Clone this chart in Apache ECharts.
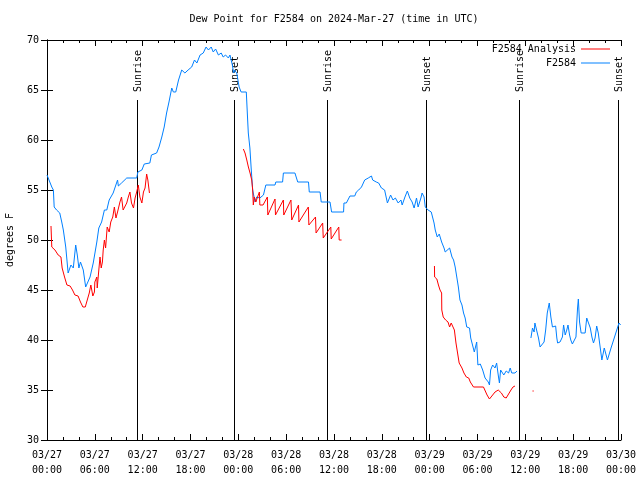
<!DOCTYPE html>
<html>
<head>
<meta charset="utf-8">
<script src="https://cdn.jsdelivr.net/npm/echarts@6/dist/echarts.min.js"></script>
<style>html,body{margin:0;padding:0;background:#fff}#c{width:640px;height:480px}</style>
</head>
<body>
<div id="c"></div>
<script>
// hours since 2024-03-27 00:00 UTC
const tickLabels = ['03/27\n00:00','03/27\n06:00','03/27\n12:00','03/27\n18:00','03/28\n00:00','03/28\n06:00','03/28\n12:00','03/28\n18:00','03/29\n00:00','03/29\n06:00','03/29\n12:00','03/29\n18:00','03/30\n00:00'];
const sunTimes = [11.23, 23.5, 35.17, 47.6, 59.2, 71.6];
const sunLabels = ['Sunrise','Sunset','Sunrise','Sunset','Sunrise','Sunset'];

const obsTimes = [0,0.6,0.8,0.9,1.2,1.6,1.85,2.05,2.35,2.65,3.0,3.3,3.6,3.8,4.0,4.2,4.55,4.85,5.1,5.4,5.8,6.25,6.5,6.85,7.2,7.5,7.8,8.3,8.55,8.85,8.95,9.35,10.0,11.25,11.4,11.9,12.2,12.9,13.1,13.75,14.05,14.4,14.7,15.0,15.3,15.65,15.85,16.15,16.5,16.9,17.3,17.7,18.15,18.5,18.8,19.2,19.6,19.95,20.25,20.6,20.85,21.15,21.5,21.85,22.1,22.4,22.75,22.95,23.25,23.4,23.5,23.8,24.1,24.35,25.0,25.15,25.25,25.45,25.6,25.8,26.1,26.3,26.7,27.15,27.45,28.6,28.7,29.55,29.65,31.1,31.45,32.8,32.9,34.25,34.4,35.5,35.7,37.2,37.25,37.55,38.0,38.6,38.8,39.1,39.45,39.85,40.3,40.7,40.85,41.3,41.6,41.95,42.35,42.7,43.1,43.4,43.7,44.05,44.4,44.55,44.9,45.2,45.5,45.8,46.05,46.35,46.55,46.9,47.05,47.3,47.45,47.8,48.2,48.55,48.7,48.95,49.2,49.5,49.8,49.95,50.5,50.8,51.0,51.2,51.4,51.6,51.8,52.05,52.25,52.45,52.65,53.0,53.15,53.4,53.6,53.9,54.05,54.35,54.65,54.95,55.15,55.35,55.5,55.65,55.9,56.2,56.4,56.6,56.75,56.9,57.15,57.3,57.6,57.9,58.1,58.3,58.7,58.95,59.8,60.7,60.9,61.1,61.2,61.45,61.65,61.85,62.05,62.35,62.55,62.75,63.0,63.2,63.4,63.6,63.8,63.95,64.05,64.35,64.65,64.8,65.0,65.2,65.35,65.55,65.7,65.9,66.1,66.35,66.55,66.65,66.8,67.0,67.5,67.7,67.85,68.15,68.35,68.55,68.75,68.95,69.15,69.4,69.6,69.8,69.9,70.1,70.3,70.55,70.75,70.95,71.15,71.35,71.55,71.75,71.95];
const obsValues = [56.5,55.3,55.0,53.3,53.0,52.7,51.8,51.0,49.3,46.7,47.5,47.2,49.5,48.5,47.2,47.8,47.0,45.3,45.5,46.3,47.7,49.8,51.2,51.8,53.0,53.0,54.0,54.7,54.8,56.0,55.4,55.7,56.2,56.2,56.8,57.0,57.6,57.7,58.5,58.7,59.3,60.3,61.3,62.7,63.8,65.2,64.8,64.8,66.0,67.0,66.7,67.0,67.3,68.0,67.7,68.5,68.7,69.3,69.0,69.3,68.8,69.1,68.5,68.7,68.3,68.5,68.2,68.5,67.5,66.7,67.0,66.7,65.3,64.8,64.8,62.3,60.7,59.2,57.3,55.0,53.8,54.3,54.2,54.5,55.5,55.5,55.8,55.8,56.7,56.7,55.8,55.8,54.8,54.8,53.8,53.8,52.8,52.8,53.7,53.7,54.4,54.4,54.8,55.0,55.3,56.0,56.2,56.4,56.0,55.8,55.7,55.2,55.0,53.7,54.5,54.0,54.2,53.7,54.0,53.5,54.3,54.9,54.2,53.8,53.2,54.2,53.3,54.2,54.7,54.3,53.3,53.0,52.8,51.7,51.0,50.3,50.6,49.8,49.2,48.8,49.2,48.3,48.0,47.3,46.3,45.3,44.0,43.5,42.7,42.2,41.3,41.2,40.2,40.3,38.8,39.8,37.5,37.6,37.0,36.2,36.4,35.8,35.5,37.0,37.5,37.2,37.7,36.5,35.7,37.0,36.8,36.5,36.9,36.7,37.2,36.7,36.7,36.9,null,40.2,41.2,40.8,41.7,41.9,40.2,39.3,39.2,39.8,41.0,42.7,43.7,42.3,41.3,41.2,41.4,40.2,39.7,39.8,40.3,41.5,40.5,41.0,41.5,40.5,40.0,39.6,39.6,40.3,43.2,44.1,41.8,40.7,40.7,42.2,42.0,41.2,40.3,39.7,40.2,41.4,40.7,39.2,38.0,38.0,39.2,39.2,38.0,38.0,39.2,39.7,40.2,40.7,41.2,41.7,41.5];

const anaTimes = [0.5,0.6,1.0,1.4,1.75,1.9,2.2,2.5,2.9,3.2,3.5,3.9,4.2,4.5,4.8,5.05,5.3,5.5,5.75,5.95,6.0,6.25,6.3,6.5,6.65,6.8,6.95,7.05,7.2,7.35,7.55,7.8,8.0,8.25,8.45,8.65,8.85,9.15,9.35,9.55,9.8,10.0,10.2,10.4,10.6,10.85,11.05,11.25,11.45,11.65,11.9,12.1,12.3,12.5,12.65,12.85,18.0,24.63,24.84,25.06,25.26,25.47,25.68,25.8,25.88,26.0,26.2,26.5,26.64,26.7,27.1,27.64,27.7,28.6,28.66,29.65,29.7,30.6,30.7,31.55,31.6,32.78,32.85,33.68,33.75,34.58,34.65,35.6,35.65,36.6,36.65,36.95,42.0,48.6,48.62,48.9,49.1,49.3,49.5,49.52,49.7,50.0,50.3,50.5,50.7,50.95,51.1,51.3,51.5,51.7,52.05,52.3,52.6,52.9,53.1,53.3,53.5,54.75,55.2,55.5,55.8,56.2,56.6,57.0,57.3,57.6,57.9,58.2,58.45,58.7,60.0,60.9,61.05];
const anaValues = [51.4,49.3,49.0,48.5,48.3,47.2,46.3,45.5,45.4,45.0,44.5,44.4,43.8,43.3,43.3,44.0,44.7,45.5,44.4,44.8,45.8,46.3,45.2,47.0,48.3,47.2,47.8,49.0,50.0,49.2,51.3,50.8,51.8,52.3,53.3,52.2,52.8,53.8,54.3,53.0,53.0,53.7,54.3,54.8,53.7,53.2,54.2,54.8,55.5,54.3,53.7,54.8,55.2,56.6,56.0,54.7,null,59.1,58.7,58.0,57.3,56.7,56.0,55.0,53.5,54.3,53.8,54.5,54.8,53.5,53.5,54.3,52.5,54.1,52.5,54.0,52.5,54.0,52.0,53.5,51.8,53.3,51.5,52.3,50.7,51.7,50.2,51.3,50.1,51.3,50.0,50.0,null,47.4,46.3,46.1,45.5,45.0,44.7,43.0,42.3,42.0,41.8,41.3,41.7,41.7,41.0,39.7,38.7,37.7,37.2,36.7,36.3,36.2,35.8,35.6,35.3,35.3,34.5,34.1,34.4,34.8,35.0,34.7,34.3,34.2,34.6,35.0,35.3,35.4,null,34.9,34.9];

const FONT = "'DejaVu Sans Mono', 'Liberation Mono', monospace";
const zip = (ts, vs) => ts.map((t, i) => [t, vs[i]]);

const chart = echarts.init(document.getElementById('c'), null, {renderer: 'canvas'});
const xBase = {
  type: 'value', min: 0, max: 72, interval: 6,
  axisLine: {show: true, lineStyle: {color: '#000', width: 1}},
  axisTick: {show: true, inside: true, length: 6, lineStyle: {color: '#000'}},
  minorTick: {show: true, splitNumber: 3, length: 3, lineStyle: {color: '#000'}},
  splitLine: {show: false}, minorSplitLine: {show: false}
};
const yBase = {
  type: 'value', min: 30, max: 70, interval: 5,
  axisLine: {show: true, lineStyle: {color: '#000', width: 1}},
  axisTick: {show: true, inside: true, length: 6, lineStyle: {color: '#000'}},
  splitLine: {show: false}
};
const legendCommon = {
  orient: 'horizontal', right: 30, align: 'right', itemWidth: 29, itemHeight: 10, padding: 0,
  textStyle: {fontFamily: FONT, fontSize: 10, color: '#000'}, icon: 'path://M0,5L29,5L29,6L0,6Z'
};

chart.setOption({
  animation: false,
  backgroundColor: '#fff',
  title: {
    text: 'Dew Point for F2584 on 2024-Mar-27 (time in UTC)',
    left: 334, top: 14, textAlign: 'center', padding: 0,
    textStyle: {fontFamily: FONT, fontSize: 10, fontWeight: 'normal', color: '#000'}
  },
  legend: [
    Object.assign({}, legendCommon, {top: 44, data: [{name: 'F2584 Analysis', itemStyle: {color: '#ff0000'}}]}),
    Object.assign({}, legendCommon, {top: 58, data: [{name: 'F2584', itemStyle: {color: '#0080ff'}}]})
  ],
  grid: {left: 47, right: 19, top: 40, bottom: 40, containLabel: false, outerBoundsMode: 'none'},
  xAxis: [
    Object.assign({}, xBase, {
      position: 'bottom',
      axisLabel: {show: true, margin: 8, lineHeight: 15, fontFamily: FONT, fontSize: 10, color: '#000',
        formatter: v => tickLabels[Math.round(v / 6)]}
    }),
    Object.assign({}, xBase, {position: 'top', axisLabel: {show: false}})
  ],
  yAxis: [
    Object.assign({}, yBase, {
      position: 'left', name: 'degrees F', nameLocation: 'middle', nameGap: 32,
      nameTextStyle: {fontFamily: FONT, fontSize: 10, color: '#000'},
      axisLabel: {show: true, margin: 8, fontFamily: FONT, fontSize: 10, color: '#000'}
    }),
    Object.assign({}, yBase, {position: 'right', axisLabel: {show: false}})
  ],
  series: [
    {
      type: 'custom', name: 'sun', xAxisIndex: 0, yAxisIndex: 0, silent: true,
      data: sunTimes.map((t, i) => [t, i]),
      renderItem: function (params, api) {
        const t = api.value(0);
        const idx = api.value(1);
        const p0 = api.coord([t, 30]);
        const p1 = api.coord([t, 64]);
        const pt = api.coord([t, 64.8]);
        const xx = Math.round(p0[0]) + 0.5;
        return {
          type: 'group',
          children: [
            {type: 'line', shape: {x1: xx, y1: p0[1], x2: xx, y2: p1[1]}, style: {stroke: '#000', lineWidth: 1}},
            {type: 'text', x: xx + 0.5, y: pt[1], rotation: Math.PI / 2,
              style: {text: sunLabels[idx], textAlign: 'left', textVerticalAlign: 'middle', font: '10px ' + FONT, fill: '#000'}}
          ]
        };
      },
      clip: false
    },
    {
      type: 'line', name: 'F2584', data: zip(obsTimes, obsValues), symbol: 'none', showSymbol: false,
      connectNulls: false, lineStyle: {color: '#0080ff', width: 1}, itemStyle: {color: '#0080ff'}
    },
    {
      type: 'line', name: 'F2584 Analysis', data: zip(anaTimes, anaValues), symbol: 'none', showSymbol: false,
      connectNulls: false, lineStyle: {color: '#ff0000', width: 1}, itemStyle: {color: '#ff0000'}
    }
  ]
});
</script>
</body>
</html>
